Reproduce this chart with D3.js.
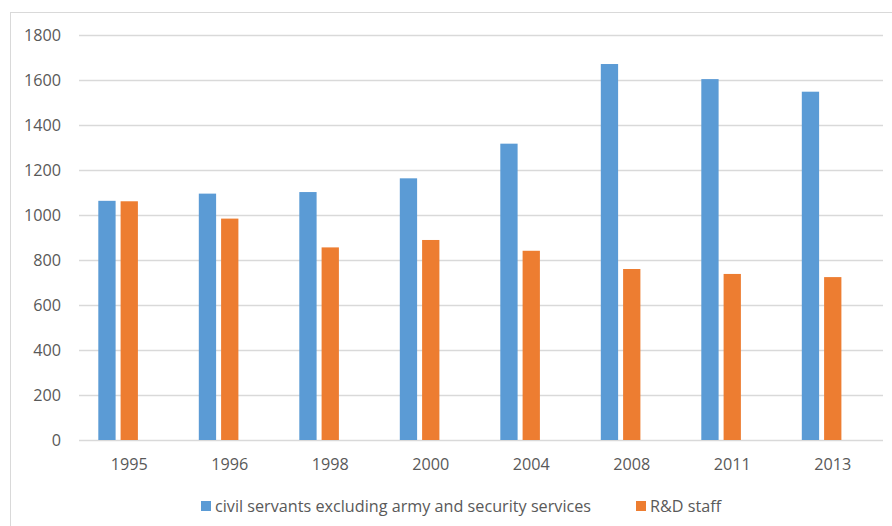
<!DOCTYPE html>
<html>
<head>
<meta charset="utf-8">
<script src="https://cdn.jsdelivr.net/npm/d3@7"></script>
<style>
  body { margin: 0; background: #fff; }
  text { font-family: "Open Sans", sans-serif; fill: #595959; }
</style>
</head>
<body>
<div id="body"></div>
<script>
// data
var years = ["1995", "1996", "1998", "2000", "2004", "2008", "2011", "2013"];
var civilServants = [1063, 1095, 1102, 1163, 1317, 1671, 1604, 1548];
var rdStaff = [1061, 984, 856, 889, 841, 760, 738, 724];
var seriesNames = ["civil servants excluding army and security services", "R&D staff"];
var yTicks = [0, 200, 400, 600, 800, 1000, 1200, 1400, 1600, 1800];

var colors = ["#5B9BD5", "#ED7D31"];
var W = 892, H = 526;
const margin = {top: 35, right: 9, bottom: 86, left: 79};
var width = W - margin.left - margin.right,
    height = H - margin.top - margin.bottom;

var svg = d3.select("#body").append("svg")
    .attr("width", W).attr("height", H);

// chart frame
svg.append("rect")
    .attr("x", 10.5).attr("y", 12.5)
    .attr("width", W).attr("height", H)
    .attr("fill", "none").attr("stroke", "#D9D9D9");

var g = svg.append("g").attr("transform", "translate(" + margin.left + "," + margin.top + ")");

var x0 = d3.scaleBand().domain(years).range([0, width]);
// the source chart keeps room for a third (empty) series slot
var x1 = d3.scaleBand().domain([0, 1, 2]).range([0, x0.bandwidth()])
    .paddingInner(0.224).paddingOuter(0.866);
var y = d3.scaleLinear().domain([0, 1800]).range([height, 0]);

// gridlines
g.selectAll(".grid").data(yTicks).enter().append("line")
    .attr("class", "grid")
    .attr("x1", 0).attr("x2", width)
    .attr("y1", function(d){ return Math.round(y(d)) + 0.5; })
    .attr("y2", function(d){ return Math.round(y(d)) + 0.5; })
    .attr("stroke", "#D9D9D9").attr("stroke-width", 1.3);

// bars
var series = [civilServants, rdStaff];
series.forEach(function(vals, s){
  g.selectAll(".bar" + s).data(vals).enter().append("rect")
      .attr("class", "bar" + s)
      .attr("x", function(d, i){ return x0(years[i]) + x1(s); })
      .attr("width", x1.bandwidth())
      .attr("y", function(d){ return y(d); })
      .attr("height", function(d){ return height - y(d); })
      .attr("fill", colors[s]);
});

// y axis labels
var yAxis = d3.axisLeft(y).tickValues(yTicks).tickFormat(d3.format("d")).tickSize(0).tickPadding(18);
g.append("g").call(yAxis)
    .call(function(a){ a.select(".domain").remove(); })
    .selectAll("text").style("font-size", "16.2px").attr("fill", "#595959");

// x axis labels
var xAxis = d3.axisBottom(x0).tickSize(0).tickPadding(18);
g.append("g").attr("transform", "translate(0," + height + ")").call(xAxis)
    .call(function(a){ a.select(".domain").remove(); })
    .selectAll("text").style("font-size", "16.2px").attr("fill", "#595959");

// legend
var legendX = [201, 636];
var legend = svg.selectAll(".legend").data(seriesNames).enter().append("g")
    .attr("class", "legend")
    .attr("transform", function(d, i){ return "translate(" + legendX[i] + ",501)"; });
legend.append("rect").attr("width", 10).attr("height", 10)
    .attr("fill", function(d, i){ return colors[i]; });
legend.append("text").attr("x", 14).attr("y", 5).attr("dy", "0.35em")
    .style("font-size", "16.2px").text(function(d){ return d; });
</script>
</body>
</html>
